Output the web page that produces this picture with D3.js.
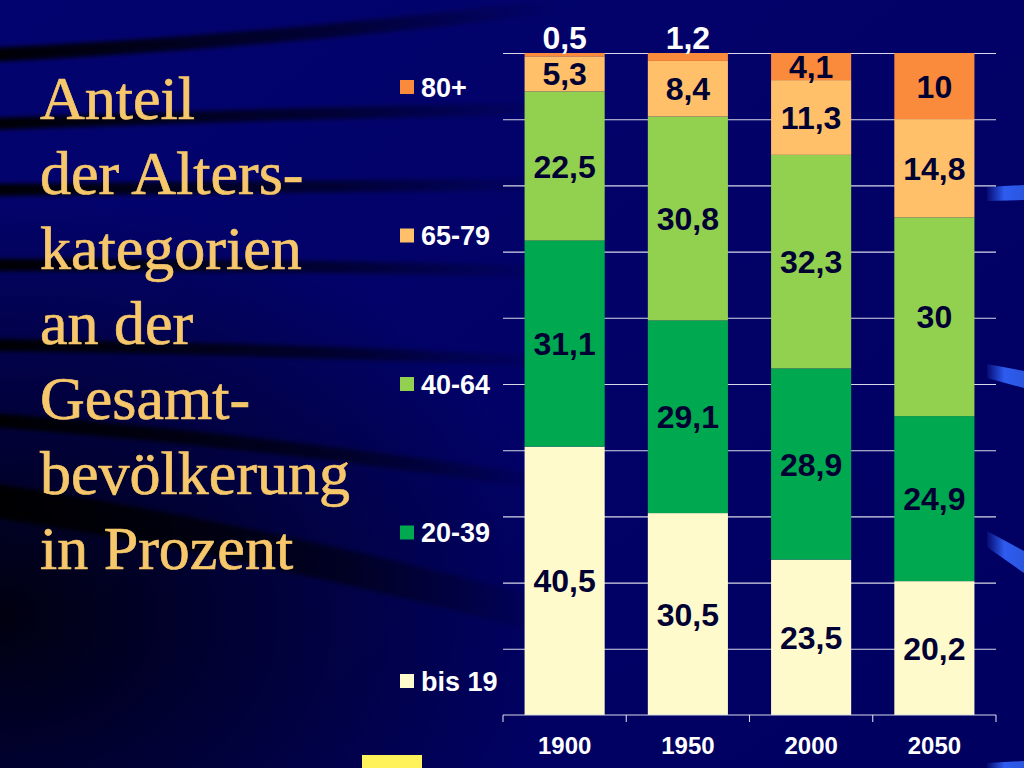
<!DOCTYPE html>
<html>
<head>
<meta charset="utf-8">
<script src="https://cdn.jsdelivr.net/npm/d3@7"></script>
<style>
  html, body { margin: 0; padding: 0; background: #000066; overflow: hidden; }
</style>
</head>
<body>
<div class="center"></div>
<script>
// chart values
const years = ["1900", "1950", "2000", "2050"];
const groups = ["bis 19", "20-39", "40-64", "65-79", "80+"];
const bis19 = [40.5, 30.5, 23.5, 20.2];
const age20to39 = [31.1, 29.1, 28.9, 24.9];
const age40to64 = [22.5, 30.8, 32.3, 30];
const age65to79 = [5.3, 8.4, 11.3, 14.8];
const age80plus = [0.5, 1.2, 4.1, 10];
const gridTicks = [10, 20, 30, 40, 50, 60, 70, 80, 90, 100];
const titleLines = ["Anteil", "der Alters-", "kategorien", "an der", "Gesamt-", "bevölkerung", "in Prozent"];

const colors = {
  "bis 19": "#fffacc",
  "20-39": "#00a84f",
  "40-64": "#92d050",
  "65-79": "#ffc069",
  "80+": "#fa8a3c"
};

const W = 1024, H = 768;
const plot = {left: 503, right: 996, top: 53, bottom: 715};

const svg = d3.select(".center").append("svg")
              .attr("width", W)
              .attr("height", H);

const defs = svg.append("defs");

// background
const bgGrad = defs.append("linearGradient").attr("id", "bg")
  .attr("x1", 0).attr("y1", 0).attr("x2", 1).attr("y2", 1);
bgGrad.append("stop").attr("offset", 0).attr("stop-color", "#03036f");
bgGrad.append("stop").attr("offset", 1).attr("stop-color", "#000060");

svg.append("rect").attr("width", W).attr("height", H).attr("fill", "url(#bg)");

const shade = defs.append("radialGradient").attr("id", "shade")
  .attr("cx", 0).attr("cy", 0.8).attr("r", 0.55);
shade.append("stop").attr("offset", 0).attr("stop-color", "#000000").attr("stop-opacity", 0.85);
shade.append("stop").attr("offset", 1).attr("stop-color", "#000000").attr("stop-opacity", 0);
svg.append("rect").attr("width", W).attr("height", H).attr("fill", "url(#shade)");

// dark streaks on the left
const streakGrad = defs.append("linearGradient").attr("id", "streak")
  .attr("gradientUnits", "userSpaceOnUse")
  .attr("x1", 0).attr("y1", 0).attr("x2", 560).attr("y2", 0);
streakGrad.append("stop").attr("offset", 0).attr("stop-color", "#000000").attr("stop-opacity", 0.95);
streakGrad.append("stop").attr("offset", 0.6).attr("stop-color", "#000000").attr("stop-opacity", 0.5);
streakGrad.append("stop").attr("offset", 1).attr("stop-color", "#000000").attr("stop-opacity", 0);

defs.append("filter").attr("id", "soft")
  .attr("x", "-10%").attr("y", "-50%").attr("width", "120%").attr("height", "200%")
  .append("feGaussianBlur").attr("stdDeviation", 2);

const streaks = [
  {y0: 55, c: 42, y1: 6, w: 14},
  {y0: 124, c: 114, y1: 108, w: 12},
  {y0: 190, c: 186, y1: 184, w: 12},
  {y0: 265, c: 264, y1: 272, w: 12},
  {y0: 345, c: 348, y1: 362, w: 12},
  {y0: 420, c: 440, y1: 485, w: 14},
  {y0: 500, c: 540, y1: 620, w: 34}
];
svg.append("g").attr("filter", "url(#soft)").selectAll("path")
  .data(streaks)
  .enter().append("path")
  .attr("d", d => `M-10,${d.y0} Q260,${d.c} 560,${d.y1}`)
  .attr("fill", "none")
  .attr("stroke", "url(#streak)")
  .attr("stroke-width", d => d.w)
  .attr("stroke-linecap", "round");

// little blue strokes at right edge
const blueGrad = defs.append("linearGradient").attr("id", "blue")
  .attr("gradientUnits", "userSpaceOnUse")
  .attr("x1", 985).attr("y1", 0).attr("x2", 1024).attr("y2", 0);
blueGrad.append("stop").attr("offset", 0).attr("stop-color", "#3366ff").attr("stop-opacity", 0);
blueGrad.append("stop").attr("offset", 0.5).attr("stop-color", "#3366ff").attr("stop-opacity", 0.9);
blueGrad.append("stop").attr("offset", 1).attr("stop-color", "#2a55dd").attr("stop-opacity", 1);

const blueMarks = [
  [[987, 187], [1024, 185], [1024, 200], [987, 201]],
  [[987, 364], [1024, 371], [1024, 388], [987, 378]],
  [[987, 531], [1024, 551], [1024, 573], [987, 547]],
  [[987, 763], [1024, 761], [1024, 768], [987, 768]]
];
svg.append("g").selectAll("polygon")
  .data(blueMarks)
  .enter().append("polygon")
  .attr("points", d => d.map(p => p.join(",")).join(" "))
  .attr("fill", "url(#blue)");

// yellow block bottom
svg.append("rect")
  .attr("x", 362).attr("y", 755).attr("width", 60).attr("height", 13)
  .attr("fill", "#fff25a");

// title
svg.append("g").selectAll("text")
  .data(titleLines)
  .enter().append("text")
  .attr("x", 40)
  .attr("y", (d, i) => 119 + i * 75)
  .text(d => d)
  .style("font-family", "'Liberation Serif', 'Times New Roman', serif")
  .style("font-size", "62px")
  .style("fill", "#f7c86b")
  .style("stroke", "#f7c86b")
  .style("stroke-width", "0.7px");

// scales
const xScale = d3.scaleBand().domain(years)
  .range([plot.left, plot.right])
  .paddingInner(0.35).paddingOuter(0.175);

const yScale = d3.scaleLinear().domain([0, 100]).range([plot.bottom, plot.top]);

const table = years.map((yr, i) => ({
  year: yr,
  "bis 19": bis19[i],
  "20-39": age20to39[i],
  "40-64": age40to64[i],
  "65-79": age65to79[i],
  "80+": age80plus[i]
}));

const series = d3.stack().keys(groups).offset(d3.stackOffsetExpand)(table);

// gridlines
const grid = svg.append("g")
  .attr("transform", `translate(${plot.left},0)`)
  .call(d3.axisLeft(yScale).tickValues(gridTicks)
    .tickSize(-(plot.right - plot.left)).tickFormat(""));
grid.select(".domain").remove();
grid.selectAll("line").attr("stroke", "#d8d8e8").attr("stroke-width", 1.1);

// bars
const layers = svg.append("g").selectAll("g")
  .data(series)
  .enter().append("g")
  .style("fill", d => colors[d.key]);

layers.selectAll("rect")
  .data(d => d)
  .enter().append("rect")
  .attr("x", d => xScale(d.data.year))
  .attr("width", xScale.bandwidth())
  .attr("y", d => yScale(d[1] * 100))
  .attr("height", d => yScale(d[0] * 100) - yScale(d[1] * 100));

// value labels
const fmt = v => String(v).replace(".", ",");
const labels = [];
series.forEach(s => {
  s.forEach(d => {
    const v = d.data[s.key];
    const small = v < 2;
    labels.push({
      text: fmt(v),
      x: xScale(d.data.year) + xScale.bandwidth() / 2,
      y: small ? plot.top - 16 : yScale((d[0] + d[1]) / 2 * 100),
      color: small ? "#ffffff" : "#000033"
    });
  });
});

svg.append("g").selectAll("text")
  .data(labels)
  .enter().append("text")
  .attr("x", d => d.x)
  .attr("y", d => d.y)
  .attr("dy", "0.36em")
  .attr("text-anchor", "middle")
  .text(d => d.text)
  .style("font-family", "'Liberation Sans', Arial, sans-serif")
  .style("font-weight", "700")
  .style("font-size", "32px")
  .style("fill", d => d.color);

// x axis
const xAxis = svg.append("g")
  .attr("transform", `translate(0,${plot.bottom})`)
  .call(d3.axisBottom(xScale).tickSize(0).tickPadding(22));
xAxis.select(".domain").remove();
xAxis.selectAll("text")
  .style("font-family", "'Liberation Sans', Arial, sans-serif")
  .style("font-weight", "700")
  .style("font-size", "24px")
  .style("fill", "#ffffff");

svg.append("line")
  .attr("x1", plot.left).attr("x2", plot.right)
  .attr("y1", plot.bottom).attr("y2", plot.bottom)
  .attr("stroke", "#d8d8e8").attr("stroke-width", 1.1);

svg.append("g").selectAll("line")
  .data(d3.range(years.length + 1))
  .enter().append("line")
  .attr("x1", i => plot.left + i * xScale.step())
  .attr("x2", i => plot.left + i * xScale.step())
  .attr("y1", plot.bottom)
  .attr("y2", plot.bottom + 7)
  .attr("stroke", "#d8d8e8").attr("stroke-width", 1.1);

// legend
const legend = svg.append("g").attr("transform", "translate(400,87)");
const legendItems = legend.selectAll(".legend-item")
  .data(groups.slice().reverse())
  .enter().append("g")
  .attr("class", "legend-item")
  .attr("transform", (d, i) => `translate(0,${i * 148.5})`);

legendItems.append("rect")
  .attr("x", 0).attr("y", -7)
  .attr("width", 14).attr("height", 14)
  .style("fill", d => colors[d]);

legendItems.append("text")
  .attr("x", 21)
  .attr("y", 0)
  .attr("dy", "0.36em")
  .text(d => d)
  .style("font-family", "'Liberation Sans', Arial, sans-serif")
  .style("font-weight", "700")
  .style("font-size", "27px")
  .style("fill", "#ffffff");
</script>
</body>
</html>
